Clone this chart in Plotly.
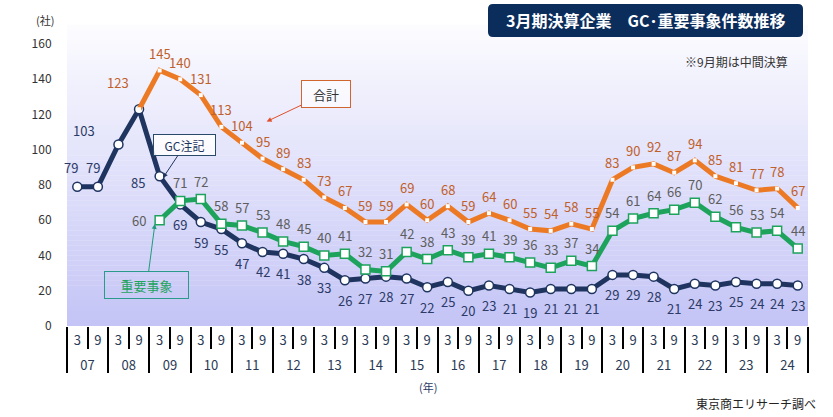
import plotly.graph_objects as go

# ---- data ----
years = ["07", "08", "09", "10", "11", "12", "13", "14", "15", "16", "17", "18",
         "19", "20", "21", "22", "23", "24"]
months = ["3", "9"]
gc = [79, 79, 103, 123, 85, 69, 59, 55, 47, 42, 41, 38, 33, 26, 27, 28, 27, 22,
      25, 20, 23, 21, 19, 21, 21, 21, 29, 29, 28, 21, 24, 23, 25, 24, 24, 23]
important = [None, None, None, None, 60, 71, 72, 58, 57, 53, 48, 45, 40, 41, 32, 31,
             42, 38, 43, 39, 41, 39, 36, 33, 37, 34, 54, 61, 64, 66, 70, 62, 56, 53, 54, 44]
total = [None, None, None, 123, 145, 140, 131, 113, 104, 95, 89, 83, 73, 67, 59, 59,
         69, 60, 68, 59, 64, 60, 55, 54, 58, 55, 83, 90, 92, 87, 94, 85, 81, 77, 78, 67]

n = len(gc)
idx = list(range(n))
month_labels = [m for _ in years for m in months]
year_pos = [i * len(months) + (len(months) - 1) / 2 for i in range(len(years))]

NAVY = "#1f3560"
GREEN = "#1ea35c"
ORANGE = "#ec7a24"
FONT = "Noto Sans CJK JP"

fig = go.Figure()

fig.add_trace(go.Scatter(
    x=idx, y=gc, mode="lines+markers", name="GC注記",
    line=dict(color=NAVY, width=5),
    marker=dict(symbol="circle", size=9, color="white", line=dict(color=NAVY, width=1.5)),
    hoverinfo="skip"))
fig.add_trace(go.Scatter(
    x=idx, y=important, mode="lines+markers", name="重要事象",
    line=dict(color=GREEN, width=5),
    marker=dict(symbol="square", size=9, color="white", line=dict(color=GREEN, width=1.5)),
    hoverinfo="skip"))
fig.add_trace(go.Scatter(
    x=idx, y=total, mode="lines+markers", name="合計",
    line=dict(color=ORANGE, width=5),
    marker=dict(symbol="square", size=4, color="white", line=dict(width=0)),
    hoverinfo="skip"))
# helper on the year axis (keeps the axis alive)
fig.add_trace(go.Scatter(x=idx, y=gc, xaxis="x2", yaxis="y", mode="markers",
                         marker=dict(opacity=0), hoverinfo="skip", showlegend=False))

annotations = []

# data labels
gc_special = {0: (-6, 19), 1: (-5, 19), 2: (-34, 14), 4: (-22, -6)}
for i, v in enumerate(gc):
    if i == 3:
        continue
    xs, ys = gc_special.get(i, (0, -20))
    annotations.append(dict(x=i, y=v, xref="x", yref="y", text=str(v), showarrow=False,
                            xshift=xs, yshift=ys, font=dict(size=13, color="#2b3a66", family=FONT)))
imp_special = {4: (-21, 0)}
for i, v in enumerate(important):
    if v is None:
        continue
    xs, ys = imp_special.get(i, (0, 18))
    annotations.append(dict(x=i, y=v, xref="x", yref="y", text=str(v), showarrow=False,
                            xshift=xs, yshift=ys, font=dict(size=13, color="#5e5e5e", family=FONT)))
tot_special = {3: (-21, 27)}
for i, v in enumerate(total):
    if v is None:
        continue
    xs, ys = tot_special.get(i, (0, 17))
    annotations.append(dict(x=i, y=v, xref="x", yref="y", text=str(v), showarrow=False,
                            xshift=xs, yshift=ys, font=dict(size=13, color="#c0602a", family=FONT)))

# callouts
annotations.append(dict(x=9.2, y=116, xref="x", yref="y", ax=59, ay=-28,
                        text="合計", showarrow=True, arrowhead=2, arrowsize=1, arrowwidth=1,
                        arrowcolor="#e0502a", bordercolor="#d0652f", borderwidth=1, borderpad=4,
                        bgcolor="rgba(255,255,255,0.6)", width=40, height=18,
                        font=dict(size=13, color="#333333", family=FONT)))
annotations.append(dict(x=4.16, y=84, xref="x", yref="y", ax=22, ay=-33,
                        text="GC注記", showarrow=True, arrowhead=2, arrowsize=1, arrowwidth=1,
                        arrowcolor=NAVY, bordercolor="#2a4a6a", borderwidth=1, borderpad=3,
                        bgcolor="rgba(255,255,255,0.85)", width=55, height=14,
                        font=dict(size=12, color="#1f3560", family=FONT)))
annotations.append(dict(x=3.77, y=57.9, xref="x", yref="y", ax=-8, ay=61,
                        text="重要事象", showarrow=True, arrowhead=2, arrowsize=1, arrowwidth=1,
                        arrowcolor="#1f9a7a", bordercolor="#2a9a8a", borderwidth=1, borderpad=4,
                        bgcolor="rgba(255,255,255,0)", width=75, height=18,
                        font=dict(size=13, color=GREEN, family=FONT)))

# texts
annotations += [
    dict(x=0.781, y=1.015, xref="paper", yref="paper", showarrow=False,
         xanchor="center", yanchor="middle",
         text="<b>3月期決算企業　GC･重要事象件数推移</b>",
         font=dict(size=16, color="white", family=FONT)),
    dict(x=0.904, y=0.880, xref="paper", yref="paper", showarrow=False,
         xanchor="center", yanchor="middle",
         text="※9月期は中間決算", font=dict(size=12, color="#333333", family=FONT)),
    dict(x=-0.0297, y=1.017, xref="paper", yref="paper", showarrow=False,
         xanchor="center", yanchor="middle",
         text="(社)", font=dict(size=11, color="#333333", family=FONT)),
    dict(x=0.487, y=-0.203, xref="paper", yref="paper", showarrow=False,
         xanchor="center", yanchor="middle",
         text="(年)", font=dict(size=11, color="#2b3a66", family=FONT)),
    dict(x=1.0135, y=-0.259, xref="paper", yref="paper", showarrow=False,
         xanchor="right", yanchor="middle",
         text="東京商エリサーチ調べ", font=dict(size=12, color="#222222", family=FONT)),
]

# background gradient bands + title box
shapes = []
N = 60
top = (252, 252, 255)
bot = (196, 196, 246)
for k in range(N):
    t = (k + 0.5) / N
    c = tuple(int(round(top[j] + (bot[j] - top[j]) * t)) for j in range(3))
    shapes.append(dict(type="rect", xref="x domain", yref="y domain", x0=0, x1=1,
                       y0=1 - (k + 1) / N, y1=1 - k / N + 0.001, layer="below",
                       line=dict(width=0), fillcolor="rgb(%d,%d,%d)" % c))

W, H = 741.0, 301.0
x0p, x1p, y0p, y1p = (488 - 67) / W, (803 - 67) / W, (326 - 37) / H, (326 - 4) / H
rx, ry = 5 / W, 5 / H
path = (f"M {x0p+rx},{y0p} L {x1p-rx},{y0p} Q {x1p},{y0p} {x1p},{y0p+ry} "
        f"L {x1p},{y1p-ry} Q {x1p},{y1p} {x1p-rx},{y1p} L {x0p+rx},{y1p} "
        f"Q {x0p},{y1p} {x0p},{y1p-ry} L {x0p},{y0p+ry} Q {x0p},{y0p} {x0p+rx},{y0p} Z")
shapes.append(dict(type="path", xref="paper", yref="paper", path=path,
                   fillcolor="#0b2d5c", line=dict(width=0), layer="below"))

xr = [-0.5, n - 0.5]
fig.update_layout(
    width=833, height=417,
    margin=dict(l=67, r=25, t=25, b=91),
    paper_bgcolor="white",
    plot_bgcolor="rgba(0,0,0,0)",
    showlegend=False,
    font=dict(family=FONT, color="#333333"),
    shapes=shapes,
    annotations=annotations,
    xaxis=dict(range=xr, automargin=False, showgrid=False, zeroline=False, showline=False,
               tickmode="array", tickvals=idx, ticktext=month_labels, ticks="",
               ticklabelstandoff=5,
               minor=dict(tickmode="linear", tick0=-0.5, dtick=1, ticks="outside", ticklen=22,
                          tickcolor="black", tickwidth=1.5, showgrid=False),
               tickfont=dict(size=13, color="#2b3a55", family=FONT)),
    xaxis2=dict(range=xr, overlaying="x", anchor="y", side="bottom", automargin=False,
                showgrid=False, zeroline=False, showline=False,
                tickmode="array", tickvals=year_pos, ticktext=years, ticks="",
                ticklabelstandoff=30,
                minor=dict(tickmode="linear", tick0=-0.5, dtick=len(months), ticks="outside",
                           ticklen=46, tickcolor="black", tickwidth=1.5, showgrid=False),
                tickfont=dict(size=13, color="#2b3a55", family=FONT)),
    yaxis=dict(range=[0, 170.8], automargin=False, showgrid=False, zeroline=False, showline=False,
               tickvals=list(range(0, 161, 20)), ticks="outside", ticklen=12,
               tickcolor="rgba(0,0,0,0)", tickfont=dict(size=12, color="#333333", family=FONT)),
)

fig.write_html("out.html", config={"displayModeBar": False},
               post_script="document.body.style.margin='0';")
